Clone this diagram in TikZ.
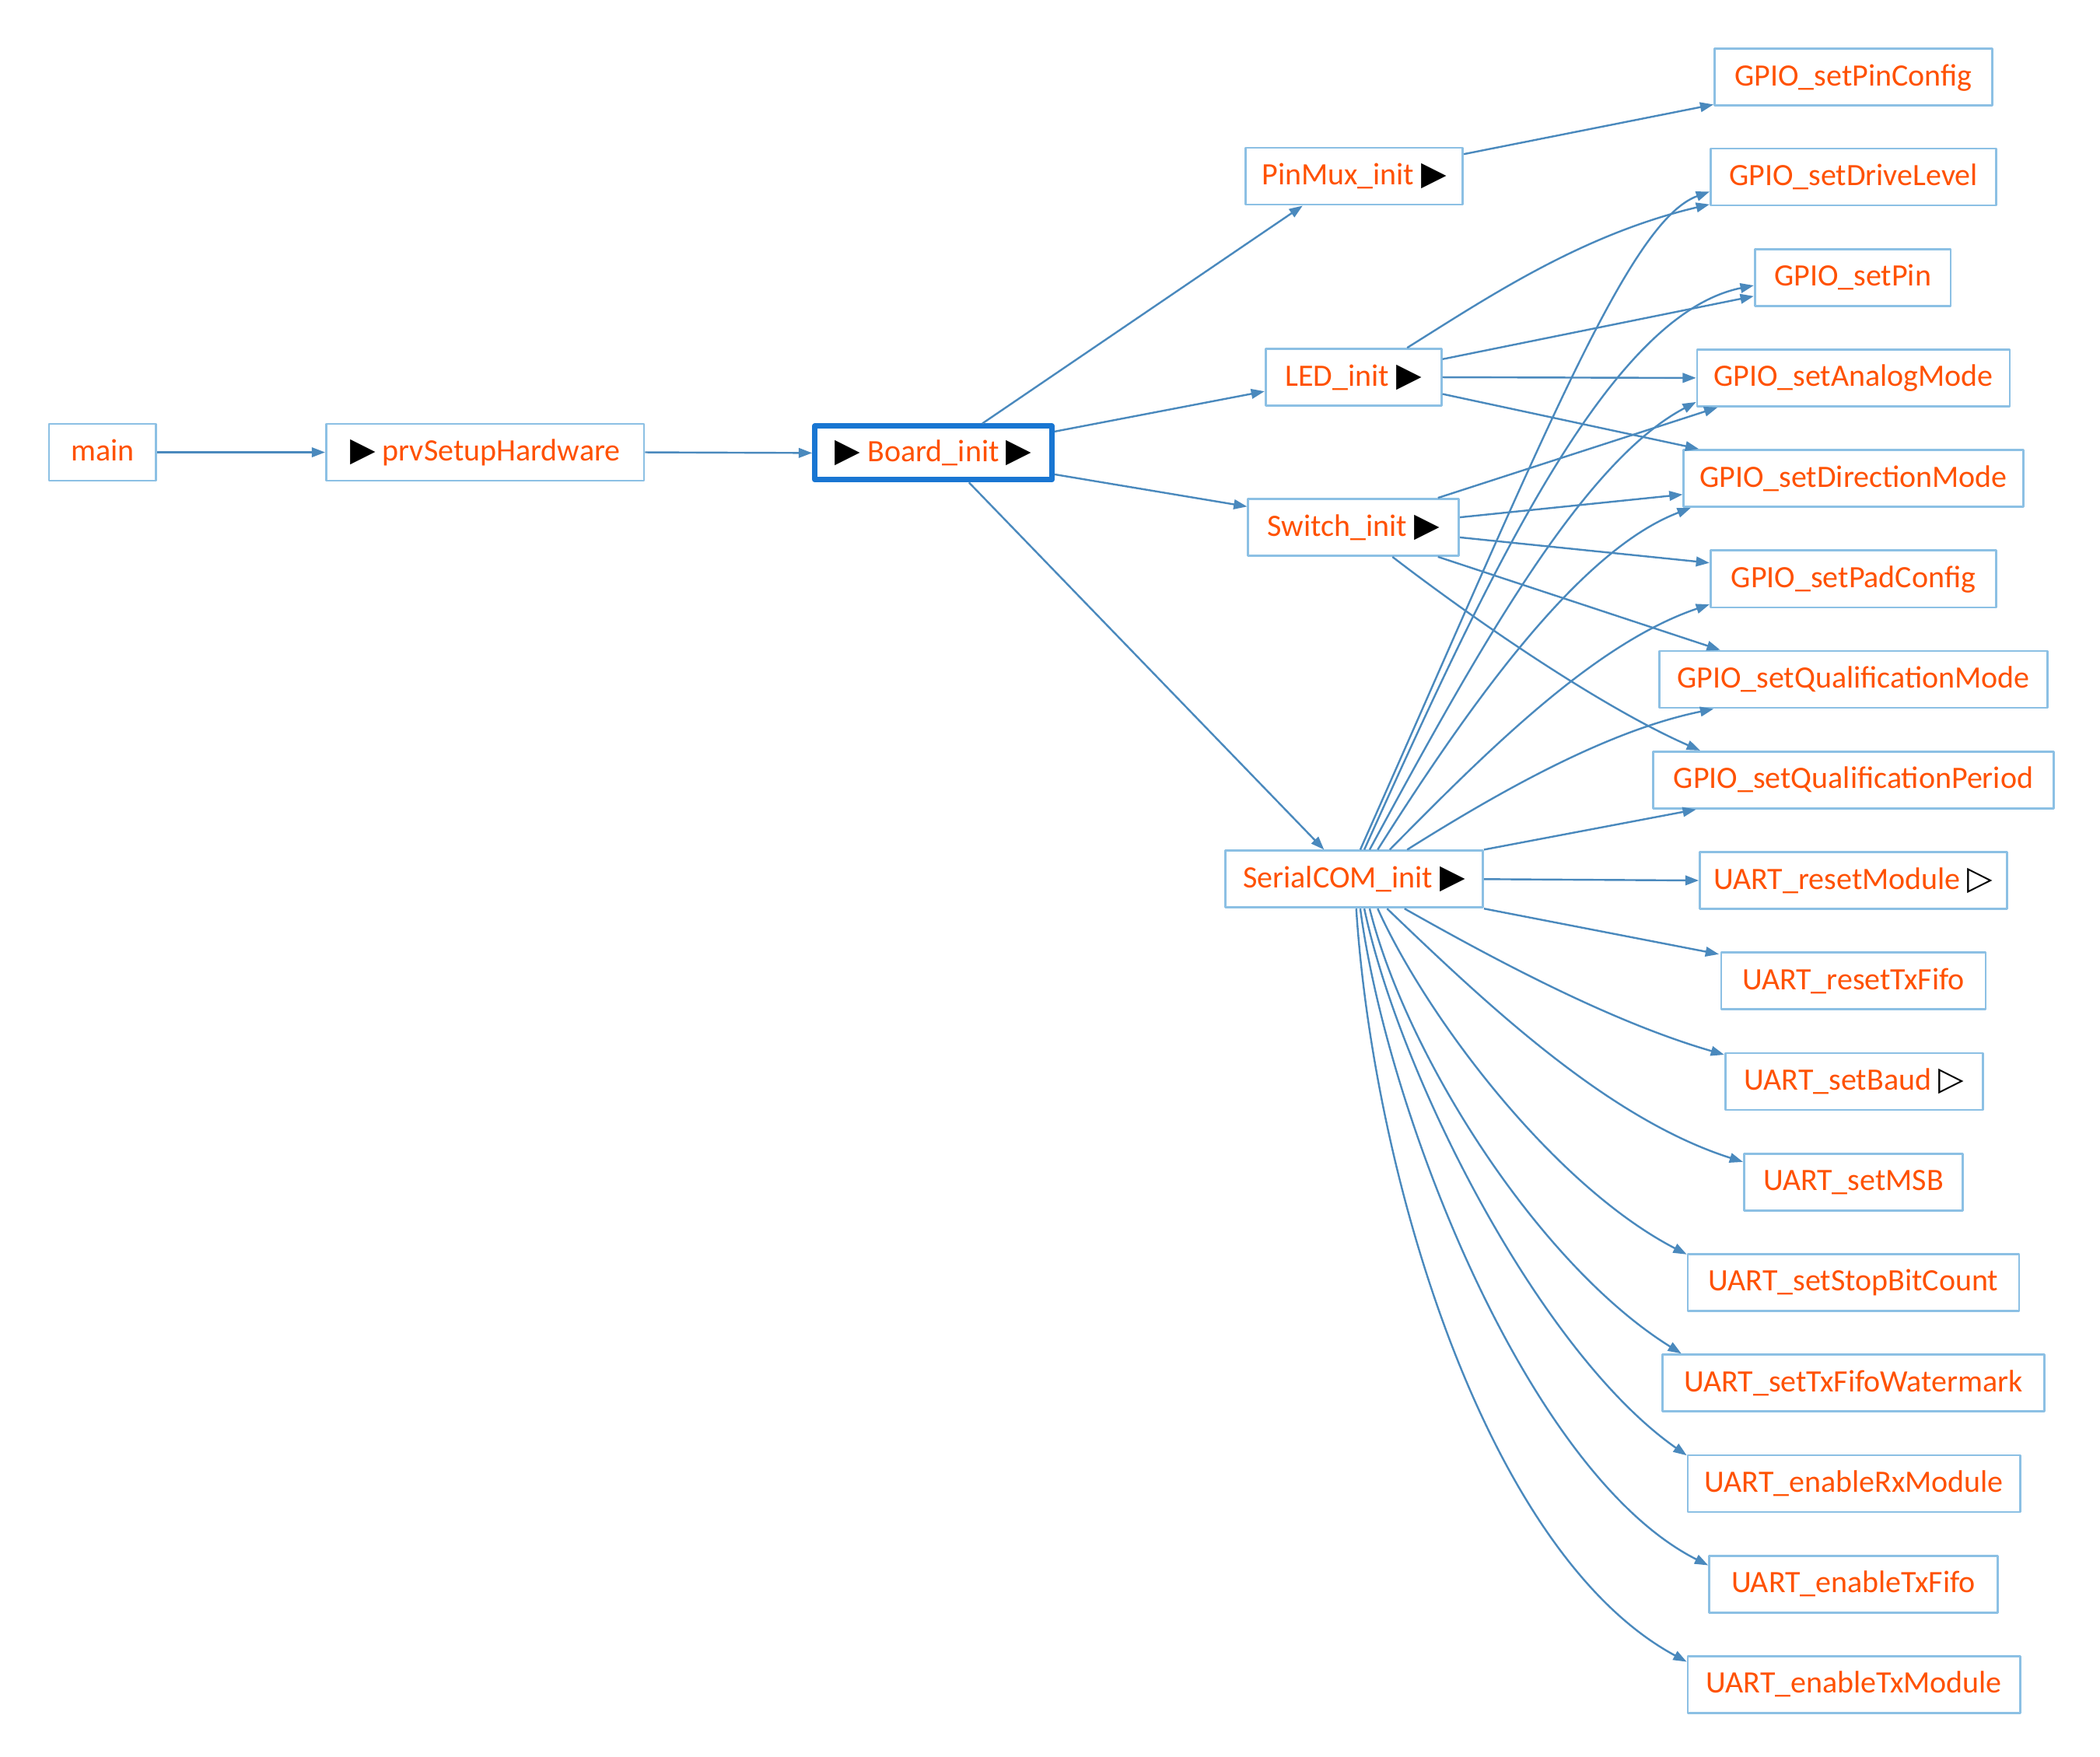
\documentclass[tikz,border=0pt]{standalone}
\usepackage{fontspec}
\setmainfont{Carlito}
\newfontfamily\symfont{DejaVu Sans}
\usetikzlibrary{arrows.meta,calc}
\definecolor{txtc}{HTML}{FF5100}
\definecolor{boxc}{HTML}{8CC0E4}
\definecolor{boardc}{HTML}{1976D2}
\definecolor{edgec}{HTML}{4A89BD}
\newcommand{\ftri}{{\color{black}\symfont\fontsize{12.3}{12}\selectfont ▶}}
\newcommand{\otri}{{\color{black}\symfont\fontsize{12.3}{12}\selectfont ▷}}
\begin{document}
\begin{tikzpicture}[x=0.5pt,y=-0.5pt,
  fn/.style={draw=boxc, line width=0.8pt, text=txtc, fill=white,
    font=\fontsize{11.6}{13}\selectfont, inner sep=0pt,
    minimum height=21.2pt, text height=0.64em, text depth=0pt, line join=round},
  boardbox/.style={fn, draw=boardc, line width=2pt, minimum height=20pt},
  edge/.style={draw=edgec, line width=0.7pt, -{Triangle[length=5pt,width=3.6pt]}}]
\useasboundingbox (0,0) rectangle (1567,1311);
% left part
\node[fn, minimum width=40pt] (main) at (76.5,337.5) {main};
\node[fn, minimum width=118.6pt] (prv) at (362,337.5) {\ftri\ prvSetupHardware};
\node[boardbox, minimum width=88.5pt] (board) at (696.5,338) {\ftri\ Board\_init \ftri};
% middle
\node[fn, minimum width=81pt] (pinmux) at (1010.5,131.5) {PinMux\_init \ftri};
\node[fn, minimum width=65.6pt] (led) at (1010,281.5) {LED\_init \ftri};
\node[fn, minimum width=78.6pt] (sw) at (1010,393.5) {Switch\_init \ftri};
\node[fn, minimum width=96pt] (ser) at (1010.5,656) {SerialCOM\_init \ftri};
% right column
\node[fn, minimum width=103.6pt] (pinc) at (1383,57.5) {GPIO\_setPinConfig};
\node[fn, minimum width=106.6pt] (drive) at (1383,132) {GPIO\_setDriveLevel};
\node[fn, minimum width=73.1pt] (pin) at (1382.5,207) {GPIO\_setPin};
\node[fn, minimum width=116.6pt] (analog) at (1383,282) {GPIO\_setAnalogMode};
\node[fn, minimum width=126.6pt] (dir) at (1383,357) {GPIO\_setDirectionMode};
\node[fn, minimum width=106.6pt] (pad) at (1383,432) {GPIO\_setPadConfig};
\node[fn, minimum width=144.6pt] (qmode) at (1383,507) {GPIO\_setQualificationMode};
\node[fn, minimum width=149.6pt] (qper) at (1383,582) {GPIO\_setQualificationPeriod};
\node[fn, minimum width=114.6pt] (rmod) at (1383,657) {UART\_resetModule \otri};
\node[fn, minimum width=98.6pt] (rtx) at (1383,732) {UART\_resetTxFifo};
\node[fn, minimum width=96.1pt] (baud) at (1383.5,807) {UART\_setBaud \otri};
\node[fn, minimum width=81.6pt] (msb) at (1383,882) {UART\_setMSB};
\node[fn, minimum width=123.6pt] (stop) at (1383,957) {UART\_setStopBitCount};
\node[fn, minimum width=142.6pt] (wm) at (1383,1032) {UART\_setTxFifoWatermark};
\node[fn, minimum width=124.1pt] (erx) at (1383.5,1107) {UART\_enableRxModule};
\node[fn, minimum width=107.6pt] (etf) at (1383,1182) {UART\_enableTxFifo};
\node[fn, minimum width=124.1pt] (etm) at (1383.5,1257) {UART\_enableTxModule};
% edges left
\draw[edge] (main.east) -- (prv.west);
\draw[edge] (prv.east) -- (board.west);
\draw[edge] ($(board.north)+(36.5,0)$) -- ($(pinmux.south)+(-38.5,0)$);
\draw[edge] ($(board.north east)+(0,6)$) -- ($(led.west)+(0,10.5)$);
\draw[edge] ($(board.south east)+(0,-6)$) -- ($(sw.west)+(0,-15.5)$);
\draw[edge] ($(board.south)+(26.5,0)$) -- ($(ser.north)+(-22.5,0)$);
% PinMux
\draw[edge] ($(pinmux.east)+(0,-16.5)$) -- ($(pinc.south west)+(0,-1.5)$);
% LED
\draw[edge] ($(led.north)+(40,0)$) .. controls (1110,222) and (1180,175) .. ($(drive.south west)+(0,-1.5)$);
\draw[edge] ($(led.east)+(0,-13.5)$) -- ($(pin.west)+(0,14)$);
\draw[edge] (led.east) -- (analog.west);
\draw[edge] ($(led.east)+(0,12.5)$) -- ($(dir.north west)+(12,0)$);
% Switch
\draw[edge] ($(sw.north)+(63,0)$) -- ($(analog.south west)+(16,0)$);
\draw[edge] ($(sw.east)+(0,-7.5)$) -- ($(dir.west)+(0,12)$);
\draw[edge] ($(sw.east)+(0,7.5)$) -- ($(pad.west)+(0,-12)$);
\draw[edge] ($(sw.south)+(63,0)$) -- ($(qmode.north west)+(46,0)$);
\draw[edge] ($(sw.south)+(29,0)$) .. controls (1110,470) and (1200,530) .. ($(qper.north west)+(36,0)$);
% SerialCOM upward
\draw[edge] ($(ser.north)+(4.5,0)$) .. controls (1150,330) and (1215,165) .. ($(drive.west)+(0,11)$);
\draw[edge] ($(ser.north)+(7.5,0)$) .. controls (1110,430) and (1200,235) .. ($(pin.west)+(0,6)$);
\draw[edge] ($(ser.north)+(11.5,0)$) .. controls (1100,490) and (1180,345) .. ($(analog.west)+(0,18)$);
\draw[edge] ($(ser.north)+(17.5,0)$) .. controls (1100,520) and (1180,410) .. ($(dir.south west)+(6,0)$);
\draw[edge] ($(ser.north)+(26.5,0)$) .. controls (1110,560) and (1190,480) .. ($(pad.west)+(0,19)$);
\draw[edge] ($(ser.north)+(39.5,0)$) .. controls (1120,590) and (1200,545) .. ($(qmode.south west)+(41,0)$);
\draw[edge] (ser.north east) -- ($(qper.south west)+(33,0)$);
% SerialCOM right/down
\draw[edge] (ser.east) -- (rmod.west);
\draw[edge] (ser.south east) -- ($(rtx.north west)+(-1,2)$);
\draw[edge] ($(ser.south)+(37.5,0)$) .. controls (1110,713) and (1200,762) .. ($(baud.north west)+(0,2)$);
\draw[edge] ($(ser.south)+(24.5,0)$) .. controls (1110,750) and (1200,835) .. ($(msb.north west)+(0,7)$);
\draw[edge] ($(ser.south)+(17.5,0)$) .. controls (1065,760) and (1160,885) .. ($(stop.north west)+(0,1)$);
\draw[edge] ($(ser.south)+(11.5,0)$) .. controls (1050,790) and (1150,945) .. ($(wm.north west)+(15,0)$);
\draw[edge] ($(ser.south)+(7.5,0)$) .. controls (1045,805) and (1150,1010) .. ($(erx.north west)+(0,1)$);
\draw[edge] ($(ser.south)+(4.5,0)$) .. controls (1035,830) and (1140,1100) .. ($(etf.north west)+(0,8)$);
\draw[edge] ($(ser.south)+(1.5,0)$) .. controls (1025,880) and (1110,1160) .. ($(etm.north west)+(0,5)$);
\end{tikzpicture}
\end{document}
